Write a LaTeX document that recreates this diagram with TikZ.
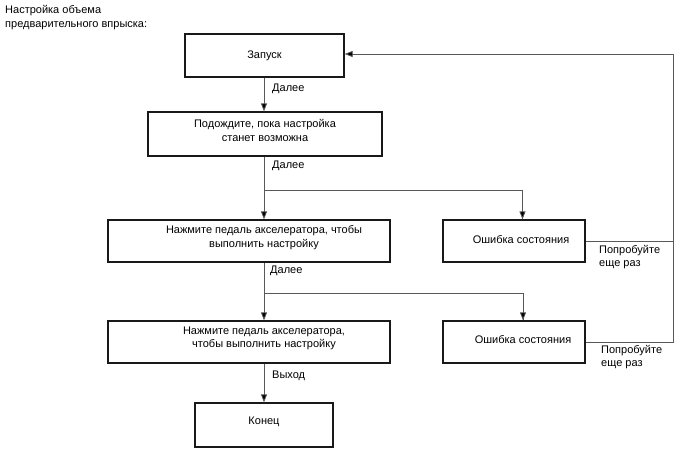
\documentclass[tikz,border=0pt]{standalone}
\usepackage{fontspec}
\setmainfont{Liberation Sans}
\usetikzlibrary{arrows.meta}
\begin{document}
\begin{tikzpicture}[x=1pt,y=-1pt,
  font=\fontsize{11}{13.5}\selectfont,
  box/.style={draw=black!90,line width=1.3pt,rectangle,inner sep=0pt},
  txt/.style={align=center,inner sep=0pt},
  lbl/.style={align=left,anchor=west,inner sep=0pt},
  conn/.style={draw=black!65,line width=0.8pt},
  arr/.style={conn,-{Triangle[length=8pt,width=6pt,fill=black]}}]
\useasboundingbox[fill=white] (0,0) rectangle (688,463);
% title
\node[lbl,anchor=north west] (title) at (5,5.5) {Настройка объема\\предварительного впрыска:};
% boxes
\node[box,minimum width=159pt,minimum height=43pt] (b1) at (264.5,55.5) {};
\node[txt] (t1) at (264.5,55.5) {Запуск};
\node[box,minimum width=234pt,minimum height=44pt] (b2) at (265,134) {};
\node[txt] (t2) at (265,130.5) {Подождите, пока настройка\\станет возможна};
\node[box,minimum width=282pt,minimum height=42pt] (b3) at (249,241) {};
\node[txt] (t3) at (264,237.5) {Нажмите педаль акселератора, чтобы\\выполнить настройку};
\node[box,minimum width=282pt,minimum height=42pt] (b4) at (249,342) {};
\node[txt] (t4) at (264,338.5) {Нажмите педаль акселератора,\\чтобы выполнить настройку};
\node[box,minimum width=138pt,minimum height=44pt] (b5) at (264,425) {};
\node[txt] (t5) at (264,422) {Конец};
\node[box,minimum width=142pt,minimum height=42pt] (e1) at (514,241) {};
\node[txt] (te1) at (521,240) {Ошибка состояния};
\node[box,minimum width=142pt,minimum height=42pt] (e2) at (514,342) {};
\node[txt] (te2) at (523,340) {Ошибка состояния};
% coordinates
\coordinate (s2) at (264,190);
\coordinate (s3) at (264,293);
\coordinate (r1) at (673,241);
\coordinate (r2) at (673,342);
\coordinate (rt) at (673,54);
% connectors
\draw[arr] (b1.south -| s2) -- (b2.north -| s2);
\draw[arr] (b2.south -| s2) -- (b3.north -| s2);
\draw[conn] (s2) -| ([xshift=8.5pt]e1.north);
\draw[arr] ([xshift=8.5pt]s2 -| e1.north) -- ([xshift=8.5pt]e1.north);
\draw[arr] (b3.south -| s3) -- (b4.north -| s3);
\draw[conn] (s3) -| ([xshift=9pt]e2.north);
\draw[arr] ([xshift=9pt]s3 -| e2.north) -- ([xshift=9pt]e2.north);
\draw[arr] (b4.south -| s3) -- (b5.north -| s3);
\draw[conn] (e1.east) -- (r1);
\draw[conn] (e2.east) -- (r2) -- (r1);
\draw[arr] (r1) -- (rt) -- (b1.east |- rt);
% labels
\node[lbl] (l1) at (272,89) {Далее};
\node[lbl] (l2) at (272,166) {Далее};
\node[lbl] (l3) at (270,271) {Далее};
\node[lbl] (l4) at (272,376) {Выход};
\node[lbl,anchor=north west] (l5) at (599,245) {Попробуйте\\еще раз};
\node[lbl,anchor=north west] (l6) at (601,345) {Попробуйте\\еще раз};
\end{tikzpicture}
\end{document}
